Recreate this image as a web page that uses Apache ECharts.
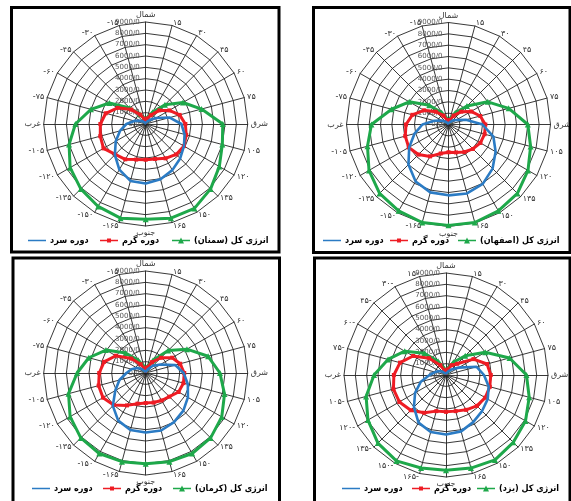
<!DOCTYPE html>
<html><head><meta charset="utf-8">
<script src="https://cdn.jsdelivr.net/npm/echarts@6/dist/echarts.min.js"></script>
<style>html,body{margin:0;padding:0;background:#fff}#c{width:571px;height:501px}</style>
</head><body><div id="c"></div>
<script>
// Directions clockwise from north (degrees)
const directions = [0,15,30,45,60,75,90,105,120,135,150,165,180,195,210,225,240,255,270,285,300,315,330,345];
const dirLabels = ['شمال','۱۵','۳۰','۴۵','۶۰','۷۵','شرق','۱۰۵','۱۲۰','۱۳۵','۱۵۰','۱۶۵','جنوب','-۱۶۵','-۱۵۰','-۱۳۵','-۱۲۰','-۱۰۵','غرب','-۷۵','-۶۰','-۴۵','-۳۰','-۱۵'];
const dirLabelsYazd = ['شمال','۱۵','۳۰','۴۵','۶۰','۷۵','شرق','۱۰۵','۱۲۰','۱۳۵','۱۵۰','۱۶۵','جنوب','۱۶۵-','۱۵۰-','۱۳۵-','۱۲۰-','۱۰۵-','غرب','۷۵-','۶۰-','۴۵-','۳۰-','۱۵-'];
const radialTicks = [0,1000,2000,3000,4000,5000,6000,7000,8000,9000];
const radialTickLabels = ['0/0','1000/0','2000/0','3000/0','4000/0','5000/0','6000/0','7000/0','8000/0','9000/0'];

const legendCold = 'دوره سرد';
const legendWarm = 'دوره گرم';
const totalNames = ['انرژی کل (سمنان)','انرژی کل (اصفهان)','انرژی کل (کرمان)','انرژی کل (یزد)'];

// Semnan
const semnanTotal = [300,600,1200,2400,3800,5100,6800,7000,7500,8100,8600,8600,8400,8600,8400,8100,7700,7000,6200,5000,3700,2000,1000,500];
const semnanWarm  = [200,500,900,1700,2400,3100,3500,3700,3900,3800,3500,3200,3150,3250,3600,3800,4300,4150,4000,3650,2850,1800,950,450];
const semnanCold  = [50,100,250,500,1050,2200,3150,3550,3900,4300,4700,5050,5250,5200,4650,3850,3050,2350,1700,1050,550,300,150,50];
// Isfahan
const isfahanTotal = [300,500,1200,2300,4000,5500,7000,7500,8100,8600,8800,8950,8900,8950,8800,8600,8100,7400,6800,5200,4000,2400,1200,500];
const isfahanWarm  = [200,400,900,1600,2300,2900,3250,3300,3250,3050,2800,2550,2450,2650,3250,3750,4050,3950,3750,3300,2500,1600,900,400];
const isfahanCold  = [50,100,250,500,800,1600,3000,4100,4800,5500,6050,6300,6250,6200,5800,5000,4000,3100,2300,1300,700,350,150,50];
// Kerman
const kermanTotal = [300,600,1300,2800,4200,5700,6550,7200,7750,8100,8200,8100,8000,8100,8200,8100,7700,7050,6050,5200,4050,2500,1300,600];
const kermanWarm  = [200,500,1100,1900,2700,3150,3400,3450,3350,2950,2800,2700,2650,2800,3300,4000,4350,4300,4100,3800,3050,1800,900,400];
const kermanCold  = [50,150,400,900,1500,2700,3350,3850,4300,4700,5000,5250,5250,5200,4850,4100,3100,2400,1700,1300,900,500,200,100];
// Yazd
const yazdTotal = [300,600,1300,2400,4000,5800,7100,7600,8100,8400,8650,8500,8400,8500,8750,8500,7950,7300,6350,5300,4200,2700,1400,600];
const yazdWarm  = [200,500,1000,1400,2800,3750,3950,4000,4000,3850,3550,3300,3250,3300,3850,4400,4750,4800,4600,4200,3350,2100,1000,400];
const yazdCold  = [50,150,350,700,1300,2800,3350,3900,4250,4500,4800,5150,5250,5200,4850,4000,3150,2300,1450,1000,700,400,200,100];

const panels = [
  {total: semnanTotal, warm: semnanWarm, cold: semnanCold, labels: dirLabels, center:[145.7,124], legendTop:236, legendLefts:[28,100,172], frame:[11.5,7.5,267.5,244.5]},
  {total: isfahanTotal, warm: isfahanWarm, cold: isfahanCold, labels: dirLabels, center:[448.5,124.5], legendTop:236, legendLefts:[323,390,458], frame:[313.5,7.5,256.5,245]},
  {total: kermanTotal, warm: kermanWarm, cold: kermanCold, labels: dirLabels, center:[145.7,373], legendTop:484, legendLefts:[32,103,173], frame:[13,258,266.5,250]},
  {total: yazdTotal, warm: yazdWarm, cold: yazdCold, labels: dirLabelsYazd, center:[446,375], legendTop:484, legendLefts:[342,412,477], frame:[314.5,258,255.5,250]}
];

const GREEN = '#1EA84A', RED = '#EE1C24', BLUE = '#2B7BC4', GRID = '#222';
const FONT = 'DejaVu Sans';
const LFONT = 'DejaVu Sans Condensed';
const RLM = '\u200F';
const R = 102;
const N = directions.length;
// radar indicators run counter-clockwise; map clockwise compass arrays onto them
const ccw = arr => arr.map((_, k) => arr[(N - k) % N]);

const iconGreen = 'path://M0,2.2L18,2.2L18,3.8L0,3.8Z M9,0L12,6L6,6Z';
const iconRed = 'path://M0,2.2L18,2.2L18,3.8L0,3.8Z M7,1L11,1L11,5L7,5Z';
const iconBlue = 'path://M0,2.2L18,2.2L18,3.8L0,3.8Z M0,0L0.01,0L0.01,6L0,6Z';

const radar = [], polar = [], angleAxis = [], radiusAxis = [], series = [], legend = [], graphics = [];
panels.forEach((p, i) => {
  const labs = ccw(p.labels);
  radar.push({
    center: p.center, radius: R, startAngle: 90, shape: 'polygon', splitNumber: 9,
    indicator: labs.map(n => ({name: n, min: 0, max: 9000})),
    axisName: {color: '#333', fontSize: 8, fontFamily: FONT},
    nameGap: 3,
    axisLine: {lineStyle: {color: GRID, width: 0.9}},
    splitLine: {lineStyle: {color: GRID, width: 0.9}},
    splitArea: {show: false},
    axisTick: {show: false}, axisLabel: {show: false}
  });
  polar.push({center: p.center, radius: R});
  angleAxis.push({polarIndex: i, type: 'value', min: 0, max: 360, startAngle: 90, show: false});
  radiusAxis.push({
    polarIndex: i, type: 'value', min: radialTicks[0], max: radialTicks[radialTicks.length-1], interval: 1000,
    axisLine: {show: false}, axisTick: {show: false}, splitLine: {show: false},
    axisLabel: {fontSize: 7, color: '#555', fontFamily: FONT, margin: 6,
      formatter: v => radialTickLabels[radialTicks.indexOf(v)]}
  });
  const tName = totalNames[i] + RLM;
  series.push({
    type: 'radar', radarIndex: i, name: tName, z: 3,
    symbol: 'triangle', symbolSize: 6,
    lineStyle: {color: GREEN, width: 3}, itemStyle: {color: GREEN},
    data: [{name: tName, value: ccw(p.total)}]
  });
  series.push({
    type: 'radar', radarIndex: i, name: legendWarm, z: 4,
    symbol: 'rect', symbolSize: 4,
    lineStyle: {color: RED, width: 3}, itemStyle: {color: RED},
    data: [{name: legendWarm, value: ccw(p.warm)}]
  });
  series.push({
    type: 'radar', radarIndex: i, name: legendCold, z: 5,
    symbol: 'none',
    lineStyle: {color: BLUE, width: 2.6}, itemStyle: {color: BLUE},
    data: [{name: legendCold, value: ccw(p.cold)}]
  });
  const items = [{name: legendCold, icon: iconBlue}, {name: legendWarm, icon: iconRed}, {name: tName, icon: iconGreen}];
  items.forEach((it, j) => {
    legend.push({
      left: p.legendLefts[j], top: p.legendTop, itemWidth: 18, itemHeight: 6, padding: 0,
      selectedMode: false,
      textStyle: {fontSize: 9, fontWeight: 'bold', color: '#000', fontFamily: LFONT, padding: [0,0,0,-1]},
      data: [it]
    });
  });
  graphics.push({
    type: 'rect', z: 100,
    shape: {x: p.frame[0], y: p.frame[1], width: p.frame[2], height: p.frame[3]},
    style: {fill: 'none', stroke: '#000', lineWidth: 3}
  });
});

const chart = echarts.init(document.getElementById('c'), null, {renderer: 'canvas'});
chart.setOption({
  backgroundColor: '#fff', animation: false,
  radar, polar, angleAxis, radiusAxis, series, legend,
  graphic: {elements: graphics}
});
</script></body></html>
